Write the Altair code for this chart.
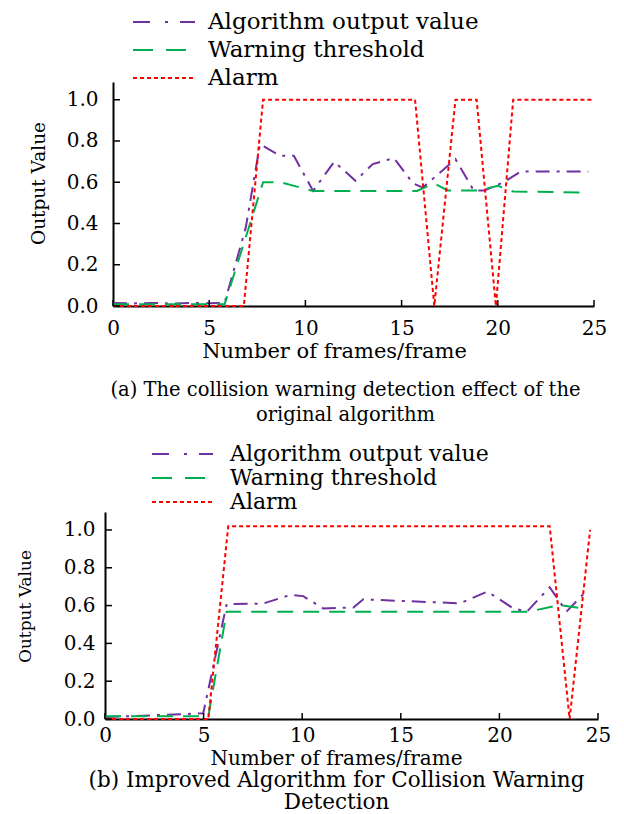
import altair as alt
import pandas as pd

FONT = "DejaVu Serif"
SERIES = ["Algorithm output value", "Warning threshold", "Alarm"]
COLORS = ["#7030A0", "#00B050", "#FF0000"]
DASHES = [[14, 7, 3, 7], [16, 10], [4, 3]]
LEGEND_DASHES = [[17, 15, 3, 12], [20, 13], [4, 3]]
XTICKS = [0, 5, 10, 15, 20, 25]
YTICKS = [0.0, 0.2, 0.4, 0.6, 0.8, 1.0]

# ---- (a) original algorithm ----
a_alg_x = [0, 1, 2, 3, 4, 5, 5.8, 6.9, 7.64, 8.68, 9.4, 10.4, 11.5, 12.6, 13.5, 14.6, 15.6, 16.1, 17.8, 18.75, 19.3, 20.3, 21.2, 24.7]
a_alg_y = [0.015, 0.012, 0.015, 0.012, 0.015, 0.013, 0.015, 0.38, 0.785, 0.728, 0.728, 0.558, 0.70, 0.607, 0.688, 0.717, 0.594, 0.574, 0.712, 0.56, 0.56, 0.60, 0.652, 0.652]
a_thr_x = [0, 5.8, 7.8, 8.7, 10.4, 15.8, 16.7, 17.4, 19.0, 20.0, 20.8, 24.7]
a_thr_y = [0.008, 0.008, 0.6, 0.6, 0.558, 0.558, 0.594, 0.56, 0.56, 0.583, 0.555, 0.55]
a_alarm_x = [0, 6.8, 7.8, 15.7, 16.7, 17.8, 18.9, 19.9, 20.8, 25]
a_alarm_y = [0, 0, 1, 1, 0, 1, 1, 0, 1, 1]

# ---- (b) improved algorithm ----
b_alg_x = [0, 4.98, 6.17, 8.0, 9.4, 10.05, 11.06, 12.6, 13.1, 18.0, 19.4, 20.7, 21.4, 22.55, 23.4, 24.5]
b_alg_y = [0.01, 0.03, 0.608, 0.61, 0.656, 0.65, 0.585, 0.59, 0.633, 0.612, 0.674, 0.585, 0.568, 0.697, 0.568, 0.686]
b_thr_x = [0, 5.24, 6.17, 21.5, 23.06, 24.2]
b_thr_y = [0.015, 0.015, 0.568, 0.568, 0.603, 0.585]
b_alarm_x = [0, 5.24, 6.25, 22.55, 23.56, 24.6]
b_alarm_y = [0, 0, 1.02, 1.02, 0, 1.0]


def build_df(ax, ay, tx, ty, rx, ry):
    rows = []
    for name, xs, ys in [(SERIES[0], ax, ay), (SERIES[1], tx, ty), (SERIES[2], rx, ry)]:
        for x, y in zip(xs, ys):
            rows.append({"series": name, "frame": x, "value": y})
    return pd.DataFrame(rows)


def panel(df, width, height, xshift, ytop, caption, cap_size, cap_dx, cap_offset, cap_lh,
          leg_rows, leg_x0, leg_x1, leg_tx, leg_size,
          ylab_pad, ytitle_pad, ytitle_size, ytitle_y,
          xlab_pad, xtitle_pad, xtitle_size, xtitle_x, align_left):
    xscale = alt.Scale(domain=[0, 25], nice=False, range=[-xshift, width])
    yscale = alt.Scale(domain=[0, ytop], nice=False)
    xaxis = alt.Axis(values=XTICKS, title="Number of frames/frame", ticks=False, tickSize=0,
                     labelPadding=xlab_pad, titlePadding=xtitle_pad, labelFlush=False,
                     labelOverlap=False, titleX=xtitle_x, titleFontSize=xtitle_size)
    yaxis = alt.Axis(values=YTICKS, format=".1f", title="Output Value", ticks=False, tickSize=0,
                     labelPadding=ylab_pad, titlePadding=ytitle_pad, labelFlush=False,
                     labelOverlap=False, offset=xshift, titleFontSize=ytitle_size, titleY=ytitle_y)
    lines = alt.Chart(df).mark_line(strokeWidth=2).encode(
        x=alt.X("frame:Q", scale=xscale, axis=xaxis),
        y=alt.Y("value:Q", scale=yscale, axis=yaxis),
        color=alt.Color("series:N", scale=alt.Scale(domain=SERIES, range=COLORS), legend=None),
        strokeDash=alt.StrokeDash("series:N", scale=alt.Scale(domain=SERIES, range=DASHES), legend=None),
        order=alt.Order("frame:Q"),
    )
    xt = alt.Chart(pd.DataFrame({"frame": XTICKS})).mark_rule(color="black", strokeWidth=1.5).encode(
        x=alt.X("frame:Q", scale=xscale, axis=xaxis),
        y=alt.value(height), y2=alt.value(height - 6),
    )
    yt = alt.Chart(pd.DataFrame({"value": YTICKS})).mark_rule(color="black", strokeWidth=1.5).encode(
        y=alt.Y("value:Q", scale=yscale, axis=yaxis),
        x=alt.value(-xshift), x2=alt.value(7 - xshift),
    )
    layers = [lines, xt, yt]
    for i, name in enumerate(SERIES):
        ldf = pd.DataFrame({"s": [name]})
        layers.append(alt.Chart(ldf).mark_rule(color=COLORS[i], strokeDash=LEGEND_DASHES[i], strokeWidth=2).encode(
            x=alt.value(leg_x0), x2=alt.value(leg_x1), y=alt.value(leg_rows[i])))
        layers.append(alt.Chart(ldf).mark_text(align="left", baseline="middle", font=FONT, fontSize=leg_size,
                                               color="black").encode(
            x=alt.value(leg_tx), y=alt.value(leg_rows[i]), text="s:N"))
    if align_left is not None:
        layers.append(alt.Chart(pd.DataFrame({"s": [""]})).mark_rule(color="white", strokeOpacity=0).encode(
            x=alt.value(align_left), x2=alt.value(align_left + 1), y=alt.value(height / 2)))
    return alt.layer(*layers).properties(
        width=width, height=height,
        title=alt.TitleParams(text=caption, orient="bottom", anchor="middle", frame="group",
                              fontSize=cap_size, font=FONT, fontWeight="normal", lineHeight=cap_lh,
                              offset=cap_offset, color="black", dx=cap_dx),
    )


top = panel(build_df(a_alg_x, a_alg_y, a_thr_x, a_thr_y, a_alarm_x, a_alarm_y),
            481, 224, 0, 1.086,
            ["(a) The collision warning detection effect of the", "original algorithm"], 19.5, -8, 20, 25,
            [-60, -32, -4], 20, 82, 95, 23,
            15, 18, 18.5, 101,
            12, 2, 21, 221, -105)
bottom = panel(build_df(b_alg_x, b_alg_y, b_thr_x, b_thr_y, b_alarm_x, b_alarm_y),
               485, 207, 8, 1.095,
               ["(b) Improved Algorithm for Collision Warning", "Detection"], 21.5, -19, 2, 22,
               [-58, -34, -10], 39, 100, 117, 22,
               10, 29, 17, 94,
               6, 3, 20, 223, None)

chart = alt.vconcat(top, bottom, spacing=18).properties(
    padding={"top": 3, "left": 0, "right": 0, "bottom": 6}
).configure_view(
    stroke=None
).configure_axis(
    grid=False, domainColor="black", domainWidth=2,
    labelFont=FONT, titleFont=FONT, labelFontSize=20, titleFontSize=20,
    titleFontWeight="normal", labelColor="black", titleColor="black",
)

chart.save("out.html", embed_options={"renderer": "svg", "actions": False})
